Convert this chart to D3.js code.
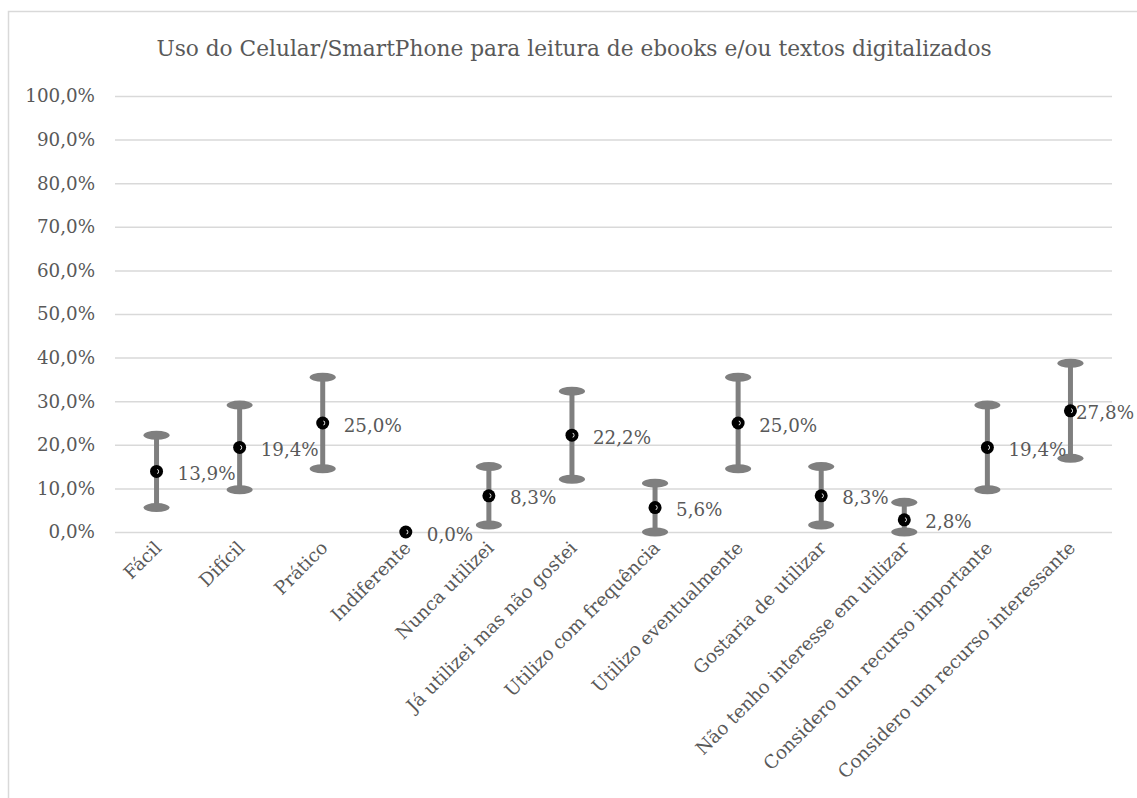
<!DOCTYPE html>
<html>
<head>
<meta charset="utf-8">
<script src="https://cdn.jsdelivr.net/npm/d3@7"></script>
<style>
  html, body { margin: 0; padding: 0; background: #fff; }
  svg { display: block; }
  text { font-family: "DejaVu Serif", serif; fill: #595959; }
</style>
</head>
<body>
<svg id="chart" width="1137" height="798"></svg>
<script>
// Categories along the x axis
const categories = [
  "Fácil", "Difícil", "Prático", "Indiferente", "Nunca utilizei",
  "Já utilizei mas não gostei", "Utilizo com frequência", "Utilizo eventualmente",
  "Gostaria de utilizar", "Não tenho interesse em utilizar",
  "Considero um recurso importante", "Considero um recurso interessante"
];
// Share of respondents (%)
const values = [13.9, 19.4, 25.0, 0.0, 8.3, 22.2, 5.6, 25.0, 8.3, 2.8, 19.4, 27.8];
// Error bar ends (%)
const upper = [22.2, 29.1, 35.5, 0.0, 15.0, 32.3, 11.2, 35.5, 15.0, 6.8, 29.1, 38.7];
const lower = [5.6, 9.7, 14.5, 0.0, 1.6, 12.1, 0.0, 14.5, 1.6, 0.0, 9.7, 16.9];
// Y axis ticks (%)
const yTicks = [0, 10, 20, 30, 40, 50, 60, 70, 80, 90, 100];

const title = "Uso do Celular/SmartPhone para leitura de ebooks e/ou textos digitalizados";

const W = 1137, H = 798;
const plot = { left: 115, right: 1112, top: 96, bottom: 532 };

const ptBR = d3.formatLocale({ decimal: ",", thousands: ".", grouping: [3], currency: ["R$", ""] });
const pct = ptBR.format(".1f");
const fmt = v => pct(v) + "%";

const svg = d3.select("#chart");

// Chart frame
svg.append("rect")
  .attr("x", 8.5).attr("y", 11.5)
  .attr("width", W + 20).attr("height", H + 20)
  .attr("fill", "#fff")
  .attr("stroke", "#d9d9d9").attr("stroke-width", 1.5);

const x = d3.scaleBand().domain(categories).range([plot.left, plot.right]);
const y = d3.scaleLinear().domain([0, 100]).range([plot.bottom, plot.top]);

// Title
svg.append("text")
  .attr("x", 574).attr("y", 56)
  .attr("text-anchor", "middle")
  .style("font-size", "21.7px")
  .text(title);

// Y axis with gridlines
const yAxis = d3.axisLeft(y)
  .tickValues(yTicks)
  .tickSize(-(plot.right - plot.left))
  .tickPadding(20)
  .tickFormat(fmt);

const gy = svg.append("g")
  .attr("transform", `translate(${plot.left},0)`)
  .call(yAxis);
gy.select(".domain").remove();
gy.selectAll(".tick line").attr("stroke", "#d9d9d9").attr("stroke-width", 1.5);
gy.selectAll(".tick text")
  .attr("fill", "#595959")
  .style("font-family", "DejaVu Serif, serif")
  .style("font-size", "18.3px");

// X axis labels (rotated)
const xAxis = d3.axisBottom(x).tickSize(0).tickPadding(0);
const gx = svg.append("g")
  .attr("transform", `translate(0,${plot.bottom})`)
  .call(xAxis);
gx.select(".domain").remove();
gx.selectAll(".tick text")
  .attr("fill", "#595959")
  .style("font-family", "DejaVu Serif, serif")
  .style("font-size", "18.3px")
  .attr("text-anchor", "end")
  .attr("dy", 0)
  .attr("y", 0)
  .attr("transform", "translate(6,17) rotate(-45)");

const cx = c => x(c) + x.bandwidth() / 2;

// Error bars
const err = svg.append("g").attr("class", "errors");
categories.forEach((c, i) => {
  if (upper[i] === lower[i]) return;
  const g = err.append("g");
  g.append("line")
    .attr("x1", cx(c)).attr("x2", cx(c))
    .attr("y1", y(upper[i])).attr("y2", y(lower[i]))
    .attr("stroke", "#7f7f7f").attr("stroke-width", 5);
  [upper[i], lower[i]].forEach(v => {
    g.append("ellipse")
      .attr("cx", cx(c)).attr("cy", y(v))
      .attr("rx", 13).attr("ry", 4.5)
      .attr("fill", "#7f7f7f");
  });
});

// Point markers
const pts = svg.append("g").attr("class", "points");
categories.forEach((c, i) => {
  const px = cx(c), py = y(values[i]);
  pts.append("circle")
    .attr("cx", px).attr("cy", py).attr("r", 6.5)
    .attr("fill", "#000");
  pts.append("path")
    .attr("d", d3.arc()({ innerRadius: 1.8, outerRadius: 2.6, startAngle: 0.3, endAngle: Math.PI - 0.3 }))
    .attr("transform", `translate(${px},${py})`)
    .attr("fill", "#fff");
});

// Value labels
const labels = svg.append("g").attr("class", "labels");
categories.forEach((c, i) => {
  const t = labels.append("text")
    .attr("x", cx(c) + 21)
    .attr("y", y(values[i]) + 8.5)
    .style("font-size", "18.3px")
    .text(fmt(values[i]));
  const w = t.node().getComputedTextLength();
  const maxRight = W - 3;
  if (cx(c) + 21 + w > maxRight) t.attr("x", maxRight - w);
});
</script>
</body>
</html>
